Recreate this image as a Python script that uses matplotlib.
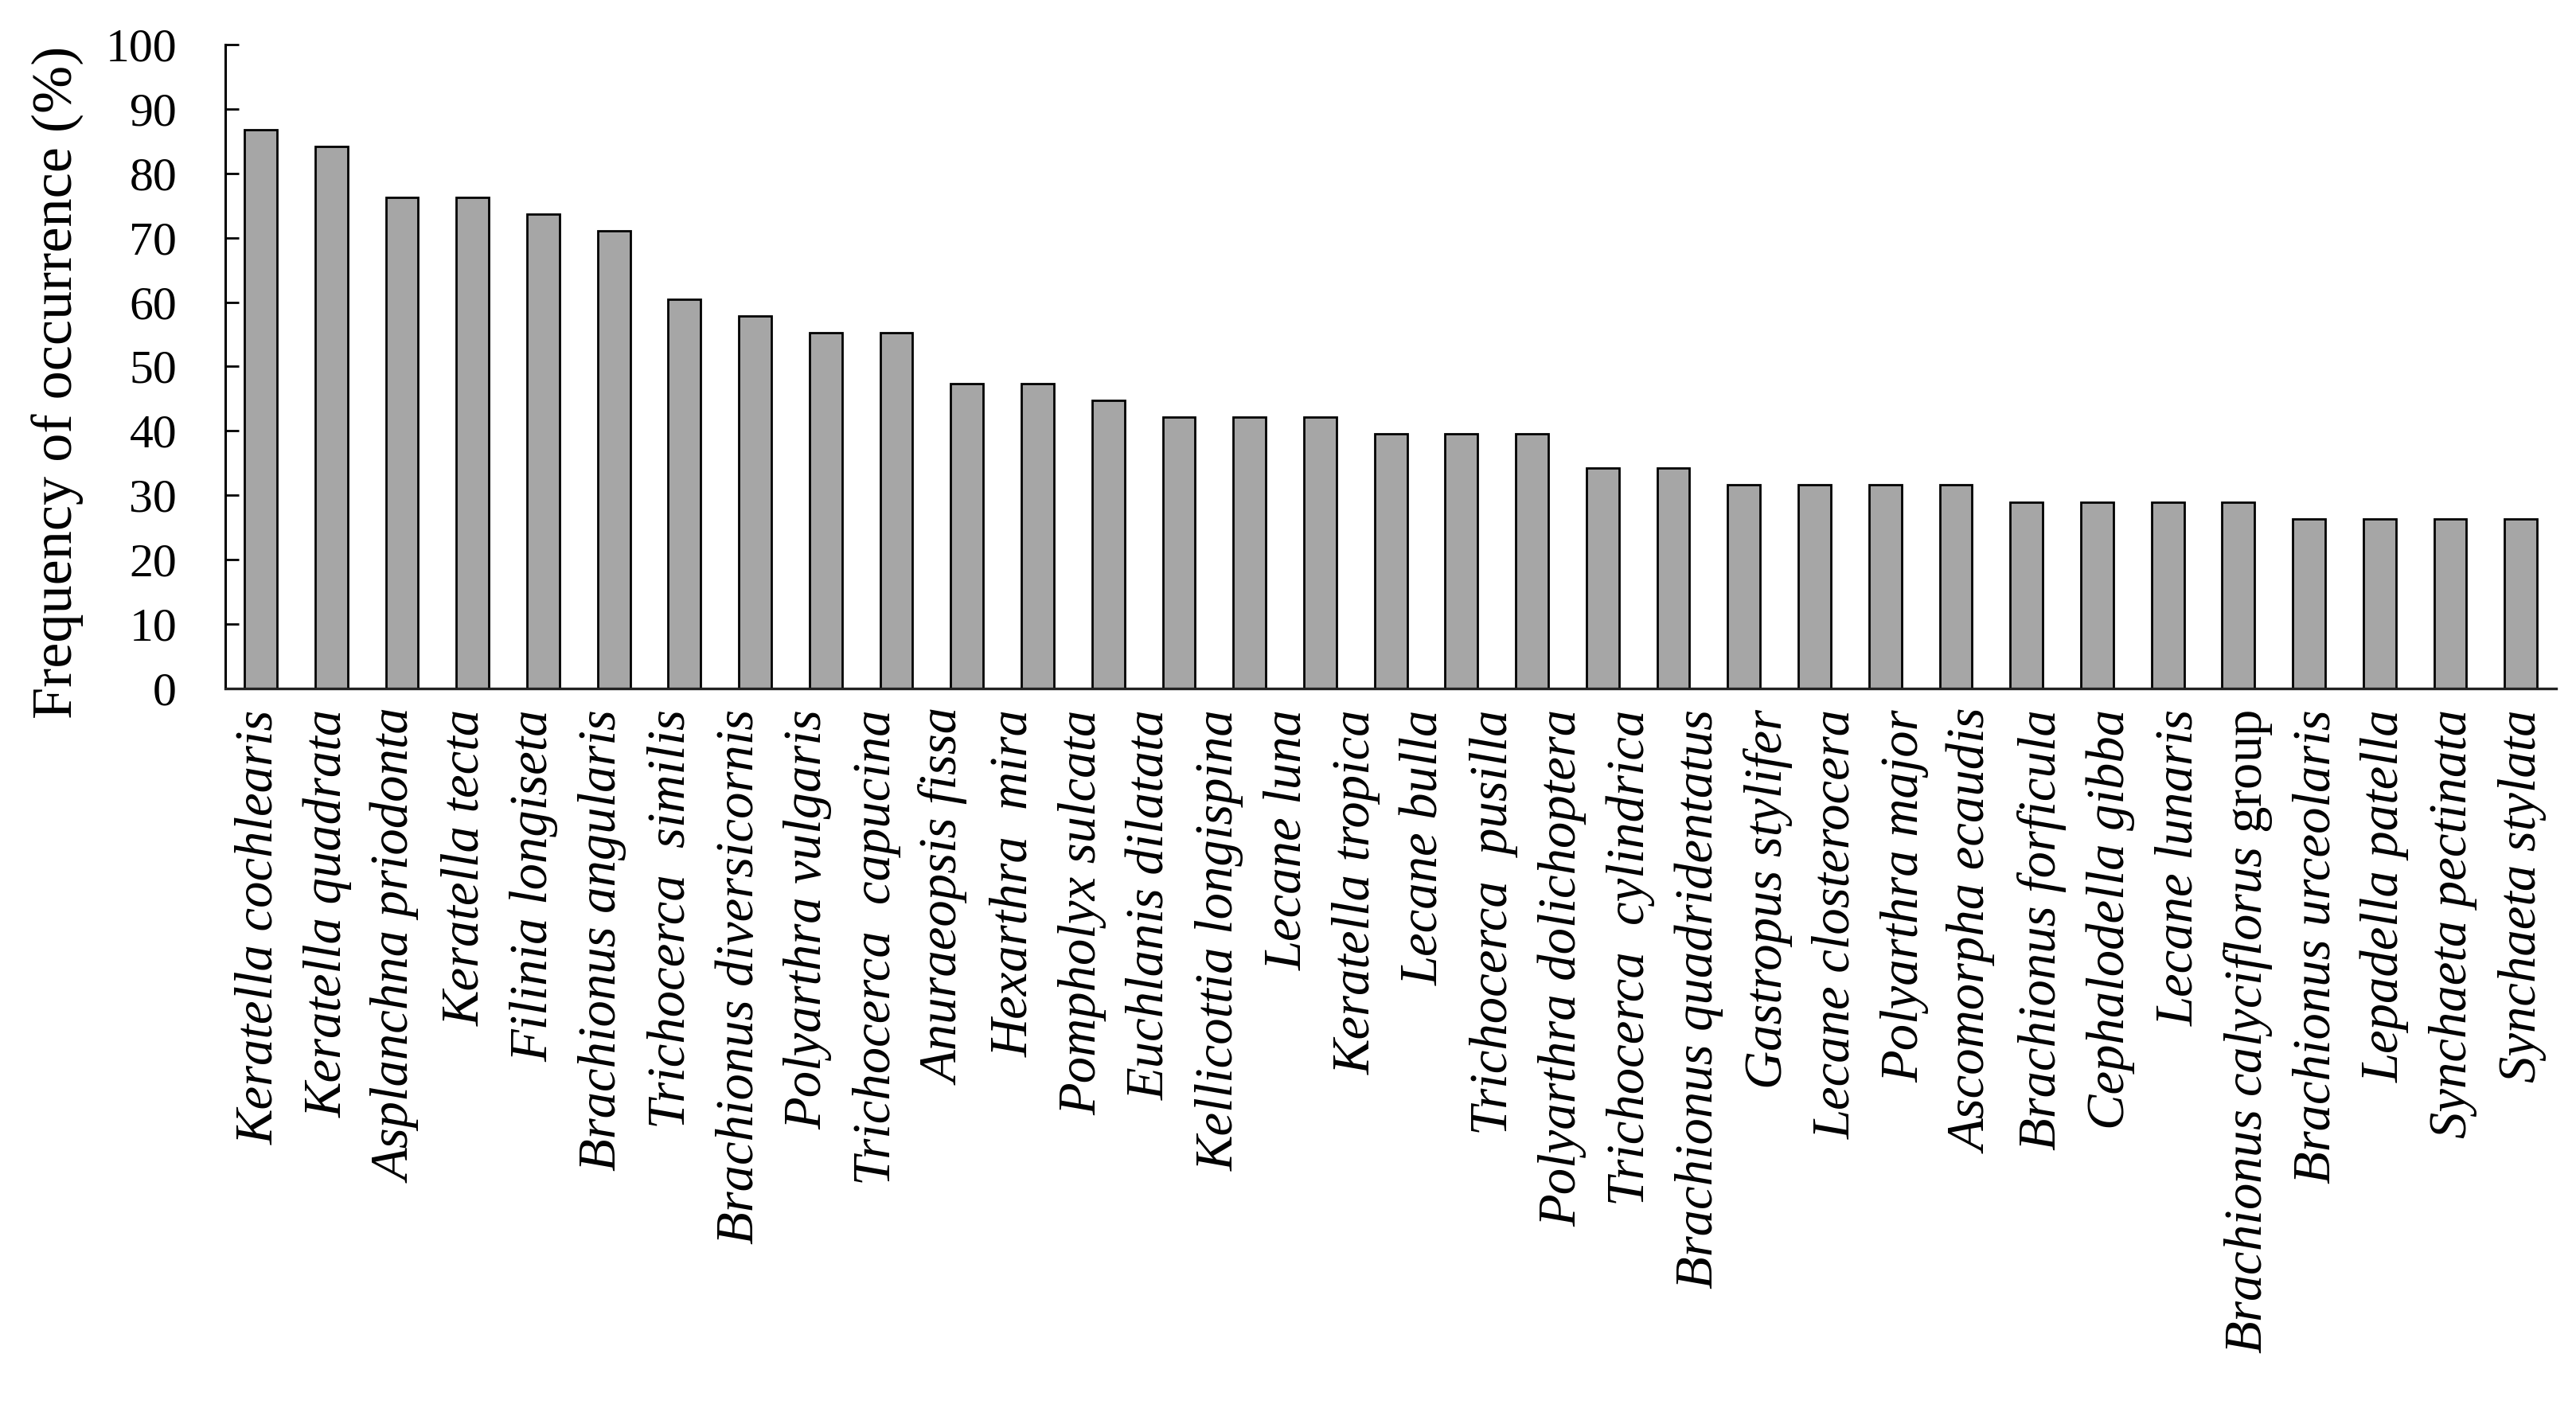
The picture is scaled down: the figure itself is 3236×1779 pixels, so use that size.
import matplotlib
matplotlib.use("Agg")
import matplotlib.pyplot as plt

# species names as printed under the axis (34 labels)
species = [
    "Keratella cochlearis", "Keratella quadrata", "Asplanchna priodonta",
    "Keratella tecta", "Filinia longiseta", "Brachionus angularis",
    "Trichocerca  similis", "Brachionus diversicornis", "Polyarthra vulgaris",
    "Trichocerca  capucina", "Anuraeopsis fissa", "Hexarthra  mira",
    "Pompholyx sulcata", "Euchlanis dilatata", "Kellicottia longispina",
    "Lecane luna", "Keratella tropica", "Lecane bulla",
    "Trichocerca  pusilla", "Polyarthra dolichoptera", "Trichocerca  cylindrica",
    "Brachionus quadridentatus", "Gastropus stylifer", "Lecane closterocera",
    "Polyarthra major", "Ascomorpha ecaudis", "Brachionus forficula",
    "Cephalodella gibba", "Lecane lunaris", "Brachionus calyciflorus group",
    "Brachionus urceolaris", "Lepadella patella", "Synchaeta pectinata",
    "Synchaeta stylata",
]

# bar heights (33 bars are drawn)
freq = [86.8, 84.2, 76.3, 76.3, 73.7, 71.1, 60.5, 57.9, 55.3, 55.3,
        47.4, 47.4, 44.7, 42.1, 42.1, 42.1, 39.5, 39.5, 39.5, 34.2,
        34.2, 31.6, 31.6, 31.6, 31.6, 28.9, 28.9, 28.9, 28.9, 26.3,
        26.3, 26.3, 26.3]

yticks = list(range(0, 101, 10))

plt.rcParams["font.family"] = ["Liberation Serif", "DejaVu Serif"]
plt.rcParams["mathtext.fontset"] = "custom"
plt.rcParams["mathtext.rm"] = "Liberation Serif"
plt.rcParams["mathtext.it"] = "Liberation Serif:italic"

fig = plt.figure(figsize=(32.36, 17.79), dpi=100)
ax = fig.add_axes([0.0875, 0.5138, 0.9048, 0.4547])

ax.bar(range(len(freq)), freq, width=0.46, color="#a6a6a6",
       edgecolor="black", linewidth=2.0, zorder=2)
ax.set_xlim(-0.5, len(freq) - 0.5)
ax.set_ylim(0, 100)
ax.set_xticks([])
ax.set_yticks(yticks)
ax.tick_params(axis="y", direction="in", length=12, width=2, pad=44,
               labelsize=43, colors="black")

for side in ["top", "right"]:
    ax.spines[side].set_visible(False)
ax.spines["left"].set_linewidth(2.2)
ax.spines["bottom"].set_linewidth(2.4)
ax.spines["bottom"].set_color("#222222")

ax.set_ylabel("Frequency of occurrence (%)", fontsize=52)
ax.yaxis.set_label_coords(-0.0605, 0.475)

# category labels on their own evenly spaced axis
ax2 = ax.twiny()
ax2.set_xlim(-0.5, len(species) - 0.5)
ax2.xaxis.set_ticks_position("bottom")
ax2.set_xticks(range(len(species)))
labels = []
for name in species:
    if name.endswith(" group"):
        genus = name[:-len(" group")].replace(" ", r"\ ")
        labels.append(r"$\mathit{" + genus + "}$ group")
    else:
        labels.append(name)
ax2.set_xticklabels(labels, rotation=90, fontsize=48)
for lab, name in zip(ax2.get_xticklabels(), species):
    lab.set_fontstyle("normal" if name.endswith(" group") else "italic")
ax2.tick_params(axis="x", length=0, pad=19)
for s in ax2.spines.values():
    s.set_visible(False)

fig.savefig("out.png", dpi=100)
